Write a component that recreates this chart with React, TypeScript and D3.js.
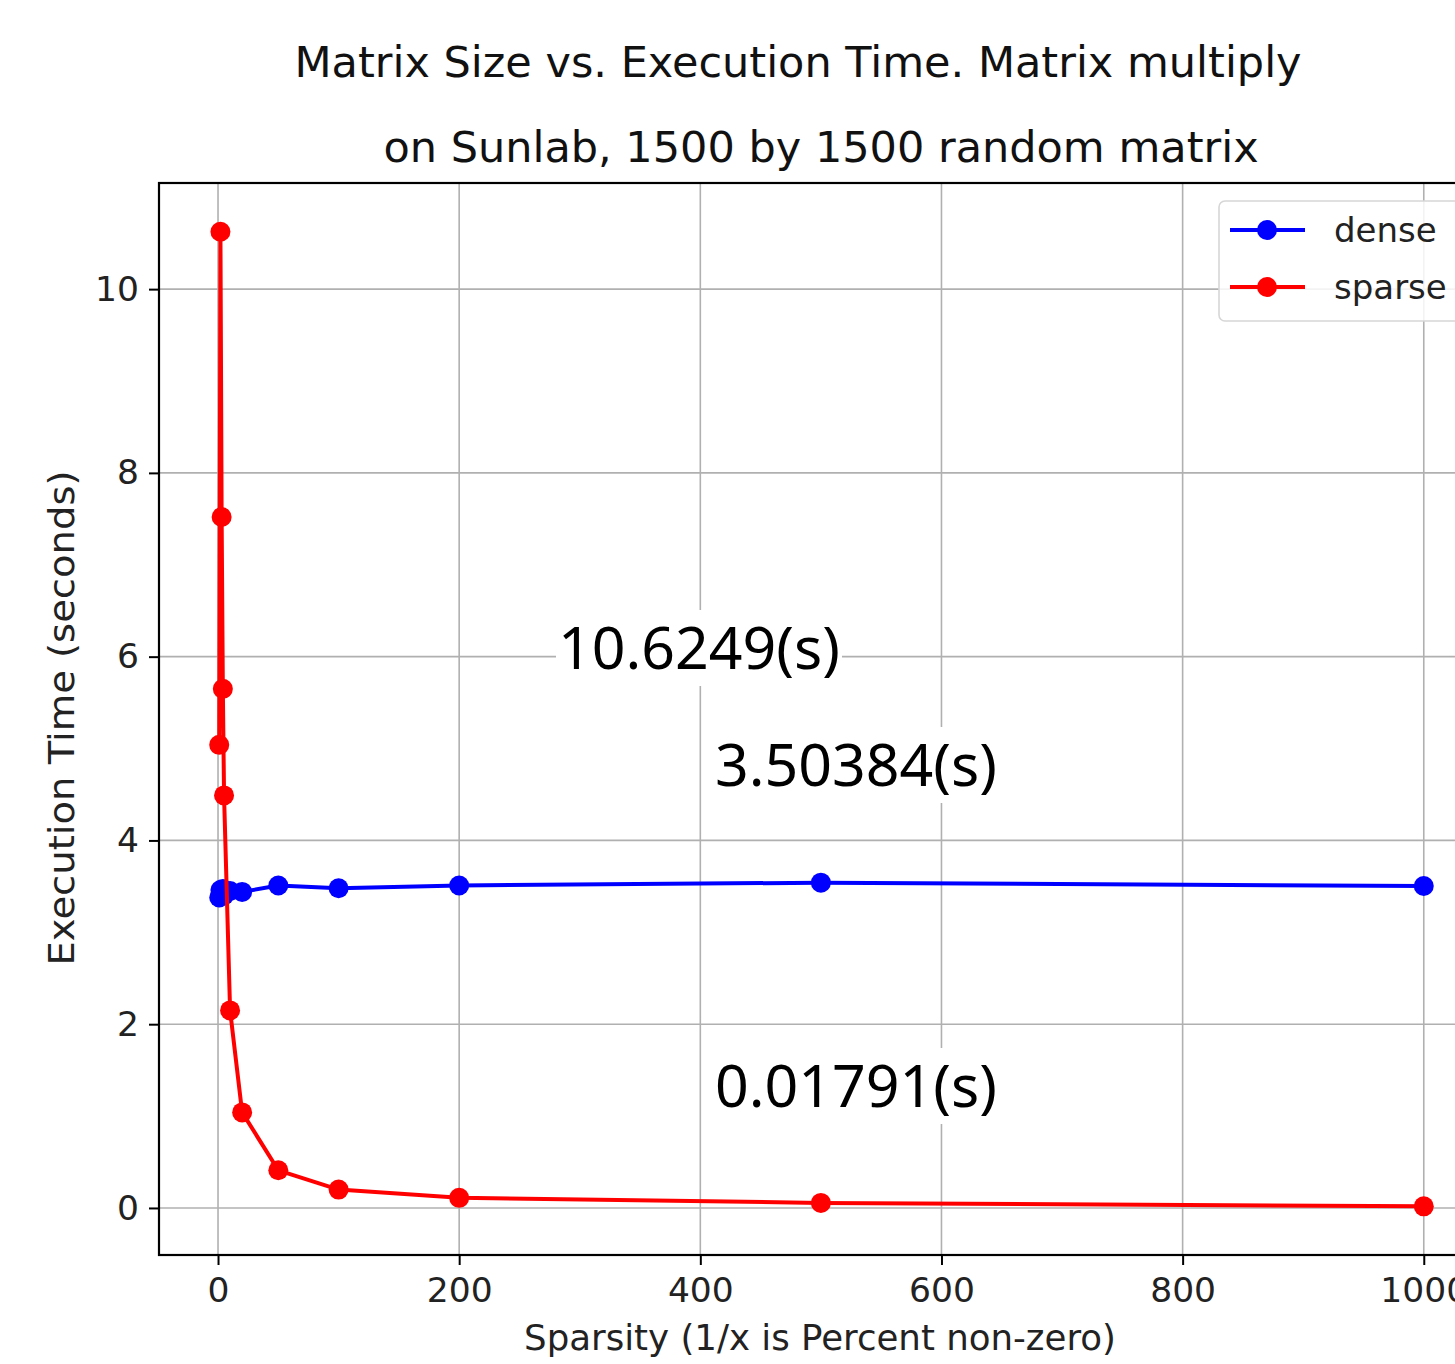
import React, { useEffect, useRef } from 'react';
import * as d3 from 'd3';

const sparsity = [1, 2, 3, 4, 5, 10, 20, 50, 100, 200, 500, 1000];
const denseTimes = [3.38, 3.46, 3.42, 3.47, 3.40, 3.45, 3.44, 3.51, 3.48, 3.51, 3.54, 3.504];
const sparseTimes = [5.04, 10.6249, 7.52, 5.65, 4.49, 2.15, 1.04, 0.41, 0.2, 0.11, 0.055, 0.01791];
const xTicks = [0, 200, 400, 600, 800, 1000];
const yTicks = [0, 2, 4, 6, 8, 10];
const titleLines = ['Matrix Size vs. Execution Time. Matrix multiply', 'on Sunlab, 1500 by 1500 random matrix'];
const notes = ['10.6249(s)', '3.50384(s)', '0.01791(s)'];
const seriesNames = ['dense', 'sparse'];
const seriesColors = ['#0000ff', '#ff0000'];

const W = 1455;
const H = 1364;
const FONT = 'DejaVu Sans, sans-serif';

const App = () => {
  const ref = useRef<SVGSVGElement>(null);

  useEffect(() => {
    const svg = d3.select(ref.current);
    svg.selectAll('*').remove();

    const left = 159, right = 1484, top = 183, bottom = 1255;
    const x = d3.scaleLinear().domain([-48.95, 1049.95]).range([left, right]);
    const y = d3.scaleLinear().domain([-0.512, 11.155]).range([bottom, top]);

    svg.append('rect').attr('width', W).attr('height', H).attr('fill', '#fff');

    // grid
    const grid = svg.append('g').attr('stroke', '#b0b0b0').attr('stroke-width', 1.6);
    xTicks.forEach((t) => grid.append('line').attr('x1', x(t)).attr('x2', x(t)).attr('y1', top).attr('y2', bottom));
    yTicks.forEach((t) => grid.append('line').attr('x1', left).attr('x2', right).attr('y1', y(t)).attr('y2', y(t)));

    // axes
    const xAxis = svg.append('g').attr('transform', `translate(0,${bottom})`)
      .call(d3.axisBottom(x).tickValues(xTicks).tickSize(10).tickPadding(13).tickFormat(d3.format('d')));
    const yAxis = svg.append('g').attr('transform', `translate(${left},0)`)
      .call(d3.axisLeft(y).tickValues(yTicks).tickSize(10).tickPadding(10).tickFormat(d3.format('d')));
    [xAxis, yAxis].forEach((a) => {
      a.select('.domain').remove();
      a.selectAll('line').attr('stroke', '#000').attr('stroke-width', 2);
      a.selectAll('text').style('font', `34.5px ${FONT}`).attr('fill', '#222');
    });

    // spines
    svg.append('rect').attr('x', left).attr('y', top).attr('width', right - left).attr('height', bottom - top)
      .attr('fill', 'none').attr('stroke', '#000').attr('stroke-width', 2.2);

    // series
    const series = [denseTimes, sparseTimes];
    series.forEach((vals, i) => {
      const pts = sparsity.map((s, j) => [s, vals[j]] as [number, number]);
      const line = d3.line<[number, number]>().x((d) => x(d[0])).y((d) => y(d[1]));
      svg.append('path').attr('d', line(pts)).attr('fill', 'none')
        .attr('stroke', seriesColors[i]).attr('stroke-width', 4).attr('stroke-linejoin', 'round');
      svg.append('g').selectAll('circle').data(pts).enter().append('circle')
        .attr('cx', (d) => x(d[0])).attr('cy', (d) => y(d[1])).attr('r', 10).attr('fill', seriesColors[i]);
    });

    // annotations with white boxes
    const notePos = [[558, 669], [715, 786], [715, 1107]];
    notes.forEach((n, i) => {
      const g = svg.append('g');
      const t = g.append('text').attr('x', notePos[i][0]).attr('y', notePos[i][1])
        .style('font', '59px Noto Sans, sans-serif').attr('fill', '#000').text(n);
      const bb = (t.node() as SVGTextElement).getBBox();
      g.insert('rect', 'text').attr('x', bb.x - 2).attr('y', bb.y + 4).attr('width', bb.width + 4)
        .attr('height', bb.height - 4).attr('fill', '#fff');
    });

    // legend
    const lg = svg.append('g');
    lg.append('rect').attr('x', 1219).attr('y', 201).attr('width', 260).attr('height', 120).attr('rx', 6)
      .attr('fill', '#fff').attr('fill-opacity', 0.85).attr('stroke', '#d6d6d6').attr('stroke-width', 1.6);
    seriesNames.forEach((name, i) => {
      const ly = 230 + i * 57;
      lg.append('line').attr('x1', 1230).attr('x2', 1305).attr('y1', ly).attr('y2', ly)
        .attr('stroke', seriesColors[i]).attr('stroke-width', 4);
      lg.append('circle').attr('cx', 1267).attr('cy', ly).attr('r', 10).attr('fill', seriesColors[i]);
      lg.append('text').attr('x', 1334).attr('y', ly + 12).style('font', `34px ${FONT}`).attr('fill', '#222').text(name);
    });

    // titles and labels
    svg.append('text').attr('x', 798).attr('y', 77).attr('text-anchor', 'middle')
      .style('font', `43px ${FONT}`).attr('fill', '#111').text(titleLines[0]);
    svg.append('text').attr('x', 821).attr('y', 162).attr('text-anchor', 'middle')
      .style('font', `43px ${FONT}`).attr('fill', '#111').text(titleLines[1]);
    svg.append('text').attr('x', 820).attr('y', 1350).attr('text-anchor', 'middle')
      .style('font', `35.6px ${FONT}`).attr('fill', '#222').text('Sparsity (1/x is Percent non-zero)');
    svg.append('text').attr('transform', `translate(74,718) rotate(-90)`).attr('text-anchor', 'middle')
      .attr('textLength', 495).attr('lengthAdjust', 'spacingAndGlyphs')
      .style('font', `35px ${FONT}`).attr('fill', '#222').text('Execution Time (seconds)');
  }, []);

  return (
    <svg ref={ref} width={W} height={H} style={{ position: 'absolute', left: 0, top: 0, display: 'block' }}></svg>
  );
};

export default App;
